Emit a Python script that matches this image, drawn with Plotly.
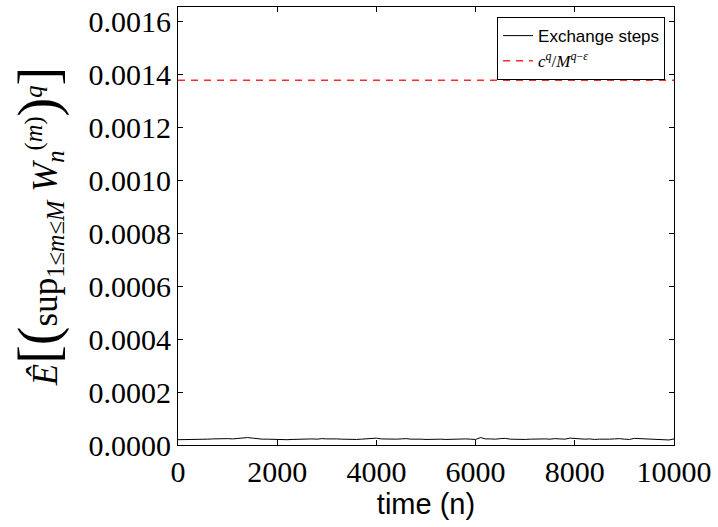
import plotly.graph_objects as go

# time steps n (every 100 steps)
n_steps = list(range(0, 10001, 100))
# Exchange steps estimate, in units of 1e-6
exchange_e6 = [
    20, 20, 21, 20, 22, 21, 22, 23, 24, 23, 24, 23, 25, 27, 28, 26, 23, 22, 22, 21,
    22, 21, 20, 21, 22, 21, 22, 23, 22, 24, 23, 24, 23, 22, 21,
    22, 21, 22, 23, 24, 26, 23, 22, 23, 22, 23, 24, 22, 23, 22, 21, 22, 23, 22, 21,
    22, 21, 22, 23, 22, 21, 28, 23, 23, 22, 24, 25, 22,
    21, 22, 21, 22, 23, 22, 23, 22, 24, 23, 22, 26, 24, 23, 22, 23, 21, 22, 21, 22,
    23, 24, 22, 21, 25, 24, 23, 22, 21, 22, 20, 19, 23,
]
exchange_vals = [v * 1e-6 for v in exchange_e6]
bound_value = 0.001377  # c^q / M^(q-eps)

y_ticks = [0.0, 0.0002, 0.0004, 0.0006, 0.0008, 0.0010, 0.0012, 0.0014, 0.0016]
y_tick_labels = ["0.0000", "0.0002", "0.0004", "0.0006", "0.0008",
                 "0.0010", "0.0012", "0.0014", "0.0016"]
x_ticks = [0, 2000, 4000, 6000, 8000, 10000]
x_tick_labels = ["0", "2000", "4000", "6000", "8000", "10000"]

serif = "Liberation Serif"
sans = "Liberation Sans"

fig = go.Figure()
fig.add_trace(go.Scatter(
    x=n_steps, y=exchange_vals, mode="lines",
    line=dict(color="black", width=1),
    name="Exchange steps",
))
fig.add_trace(go.Scatter(
    x=[n_steps[0], n_steps[-1]], y=[bound_value, bound_value], mode="lines",
    line=dict(color="#ff2a2a", width=1.5, dash="7px,6px"),
    name='<span style="font-family:Liberation Serif"><i>c</i><sup><i>q</i></sup>/<i>M</i><sup><i>q</i>−<i>ε</i></sup></span>',
))

big = '<span style="font-size:56px">%s</span>'
ytitle = ('<i>Ê</i>' + big % '[' + big % '(' +
          'sup<sub>1≤<i>m</i>≤<i>M</i></sub> '
          '<i>W</i><sub><i>n</i></sub><sup>(<i>m</i>)</sup>' +
          big % ')' + '<sup><i>q</i></sup>' + big % ']')

axis_common = dict(
    showline=True, linecolor="black", linewidth=1, mirror="allticks",
    ticks="inside", ticklen=5, tickcolor="black", tickwidth=1,
    showgrid=False, zeroline=False,
    tickfont=dict(family=serif, size=30, color="black"),
)

fig.update_layout(
    width=718, height=527,
    margin=dict(l=178, r=44, t=5, b=82),
    paper_bgcolor="white", plot_bgcolor="white",
    showlegend=True,
    legend=dict(
        x=0.982, y=0.977, xanchor="right", yanchor="top",
        bgcolor="white", bordercolor="black", borderwidth=1,
        font=dict(family=sans, size=17, color="black"),
        tracegroupgap=0, itemwidth=30,
    ),
    xaxis=dict(
        range=[0, 10000], tickvals=x_ticks, ticktext=x_tick_labels,
        title=dict(text="time (n)", font=dict(family=sans, size=29, color="black"), standoff=0),
        **axis_common,
    ),
    yaxis=dict(
        range=[0, 0.001654], tickvals=y_ticks, ticktext=y_tick_labels,
        title=dict(text=ytitle, font=dict(family=serif, size=35, color="black"), standoff=20),
        **axis_common,
    ),
)

fig.write_html(
    "out.html",
    config={"displayModeBar": False},
    post_script="document.body.style.margin='0';document.body.style.padding='0';",
)
